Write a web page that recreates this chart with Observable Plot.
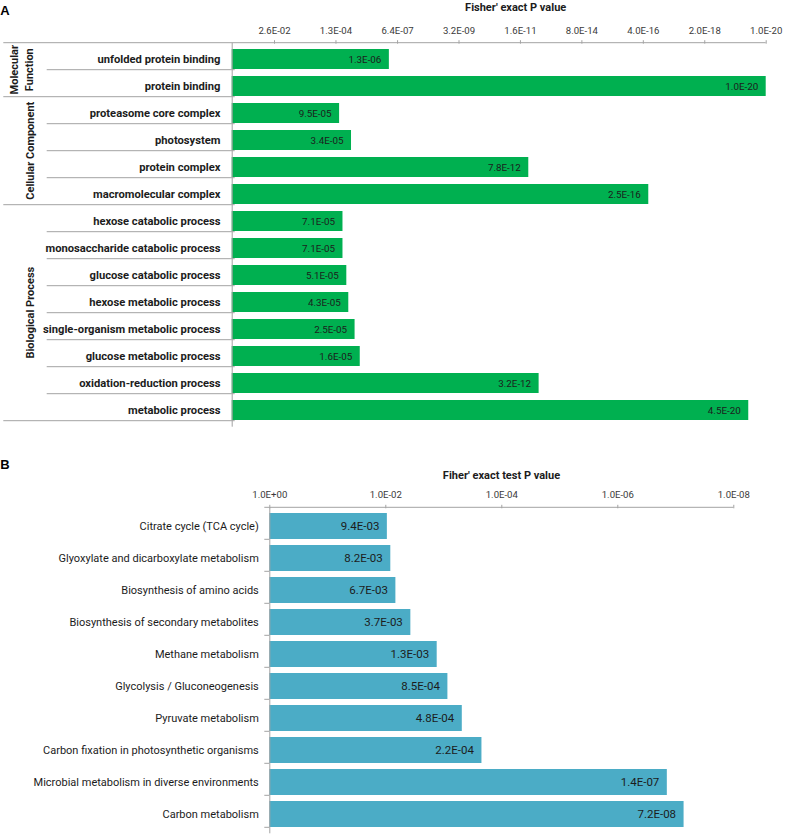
<!DOCTYPE html>
<html>
<head>
<meta charset="utf-8">
<script src="https://cdn.jsdelivr.net/npm/d3@7"></script>
<script src="https://cdn.jsdelivr.net/npm/@observablehq/plot@0.6"></script>
<style>
  body { margin: 0; background: #fff; }
  #wrap { position: relative; width: 787px; height: 838px; overflow: hidden; background: #fff; }
  #wrap svg { position: absolute; left: 0; }
</style>
</head>
<body>
<div id="wrap"></div>
<script>
// ---------- Panel A data (GO terms) ----------
const goTerms = [
  "unfolded protein binding",
  "protein binding",
  "proteasome core complex",
  "photosystem",
  "protein complex",
  "macromolecular complex",
  "hexose catabolic process",
  "monosaccharide catabolic process",
  "glucose catabolic process",
  "hexose metabolic process",
  "single-organism metabolic process",
  "glucose metabolic process",
  "oxidation-reduction process",
  "metabolic process"
];
const goP = [1.3e-6, 1.0e-20, 9.5e-5, 3.4e-5, 7.8e-12, 2.5e-16, 7.1e-5, 7.1e-5, 5.1e-5, 4.3e-5, 2.5e-5, 1.6e-5, 3.2e-12, 4.5e-20];
const goGroups = [["Molecular", "Function"], ["Cellular Component"], ["Biological Process"]];
const goGroupOf = [0, 0, 1, 1, 1, 1, 2, 2, 2, 2, 2, 2, 2, 2];
const goTicks = [2.6e-2, 1.3e-4, 6.4e-7, 3.2e-9, 1.6e-11, 8.0e-14, 4.0e-16, 2.0e-18, 1.0e-20];
const goTitle = "Fisher' exact P value";

// ---------- Panel B data (KEGG pathways) ----------
const keggTerms = [
  "Citrate cycle (TCA cycle)",
  "Glyoxylate and dicarboxylate metabolism",
  "Biosynthesis of amino acids",
  "Biosynthesis of secondary metabolites",
  "Methane metabolism",
  "Glycolysis / Gluconeogenesis",
  "Pyruvate metabolism",
  "Carbon fixation in photosynthetic organisms",
  "Microbial metabolism in diverse environments",
  "Carbon metabolism"
];
const keggP = [9.4e-3, 8.2e-3, 6.7e-3, 3.7e-3, 1.3e-3, 8.5e-4, 4.8e-4, 2.2e-4, 1.4e-7, 7.2e-8];
const keggTicks = [1e0, 1e-2, 1e-4, 1e-6, 1e-8];
const keggTitle = "Fiher' exact test P value";

// ---------- helpers ----------
function fmtE(p) {
  const [m, e] = p.toExponential(1).split("e");
  const sign = e[0] === "-" ? "-" : "+";
  const digits = e.replace(/^[+-]/, "").padStart(2, "0");
  return m + "E" + sign + digits;
}
const FONT = "Roboto, 'Liberation Sans', sans-serif";
const AXIS_GRAY = "#a3a3a3";
const TXT = "#1c1c1c";
const TICK_TXT = "#3a3a3a";

const wrap = document.getElementById("wrap");

// ================= Panel A =================
const dataA = goTerms.map((t, i) => ({term: t, p: goP[i], v: -Math.log10(goP[i])}));
const ticksA = goTicks.map(p => -Math.log10(p));
const tickLabA = new Map(ticksA.map((v, i) => [v, fmtE(goTicks[i])]));

const HA = 432;
const plotA = Plot.plot({
  width: 787, height: HA,
  marginTop: 42.7, marginLeft: 231.7, marginRight: 21.3, marginBottom: 5.3,
  style: {fontFamily: FONT, background: "transparent", overflow: "visible"},
  x: {domain: [0, 20], label: null},
  y: {domain: goTerms, paddingInner: 0.27, paddingOuter: 0.135, label: null},
  marks: [
    Plot.barX(dataA, {x: "v", y: "term", fill: "#00b050"}),
    Plot.text(dataA, {x: "v", y: "term", text: d => fmtE(d.p), textAnchor: "end", dx: -8, fontSize: 9.8, fill: TXT}),
    Plot.axisX({anchor: "top", ticks: ticksA, tickFormat: v => tickLabA.get(v), tickSize: 3.5, tickPadding: 6,
      stroke: AXIS_GRAY, fill: TICK_TXT, fontSize: 9.6, label: null}),
    Plot.axisY({anchor: "left", tickSize: 0, tickPadding: 11.7, fontSize: 11.2, fontWeight: "bold", fill: TXT, label: null}),
    Plot.ruleX([0], {stroke: AXIS_GRAY})
  ]
});
plotA.style.top = "0px";
wrap.appendChild(plotA);

(function decorateA() {
  const svg = d3.select(plotA);
  const ys = plotA.scale("y"), xs = plotA.scale("x");
  const r0 = ys.range[0], step = ys.step;
  const x0 = xs.apply(0), x1 = xs.apply(20);
  const g = svg.append("g").attr("stroke", AXIS_GRAY).attr("stroke-width", 1).attr("fill", "none");
  // top border / axis line
  g.append("line").attr("x1", 3.3).attr("x2", x1).attr("y1", r0).attr("y2", r0);
  // row boundaries
  for (let i = 1; i <= goTerms.length; i++) {
    const y = r0 + i * step;
    const isGroup = i === goTerms.length || goGroupOf[i] !== goGroupOf[i - 1];
    g.append("line").attr("x1", isGroup ? 3.3 : 46.7).attr("x2", x0 + 3).attr("y1", y).attr("y2", y);
  }
  // group labels
  goGroups.forEach((lines, gi) => {
    const idx = goGroupOf.map((g, i) => g === gi ? i : -1).filter(i => i >= 0);
    const yc = r0 + (idx[0] + idx[idx.length - 1] + 1) / 2 * step;
    const xs2 = lines.length === 2 ? [14.7, 29.2] : [30];
    lines.forEach((s, li) => {
      svg.append("text")
        .attr("transform", `translate(${xs2[li]},${yc}) rotate(-90)`)
        .attr("text-anchor", "middle").attr("dominant-baseline", "central")
        .attr("font-family", FONT).attr("font-size", 11).attr("font-weight", "bold").attr("fill", TXT)
        .text(s);
    });
  });
  // panel letter & title
  svg.append("text").attr("x", 5).attr("y", 15).attr("font-family", "'Liberation Sans', Arial, sans-serif")
    .attr("font-size", 13).attr("font-weight", "bold").attr("fill", "#000").text("A");
  svg.append("text").attr("x", 515.7).attr("y", 7.5).attr("text-anchor", "middle").attr("dominant-baseline", "central")
    .attr("font-family", FONT).attr("font-size", 11).attr("font-weight", "bold").attr("fill", TXT).text(goTitle);
})();

// ================= Panel B =================
const dataB = keggTerms.map((t, i) => ({term: t, p: keggP[i], v: -Math.log10(keggP[i])}));
const ticksB = keggTicks.map(p => -Math.log10(p) + 0);
const tickLabB = new Map(ticksB.map((v, i) => [v, fmtE(keggTicks[i])]));

const HB = 838 - HA;
const plotB = Plot.plot({
  width: 787, height: HB,
  marginTop: 75.3, marginLeft: 269.3, marginRight: 53.7, marginBottom: 4.7,
  style: {fontFamily: FONT, background: "transparent", overflow: "visible"},
  x: {domain: [0, 8], label: null},
  y: {domain: keggTerms, paddingInner: 0.18, paddingOuter: 0.09, label: null},
  marks: [
    Plot.barX(dataB, {x: "v", y: "term", fill: "#4bacc6"}),
    Plot.text(dataB, {x: "v", y: "term", text: d => fmtE(d.p), textAnchor: "end", dx: -8, fontSize: 11.5, fill: TXT}),
    Plot.axisX({anchor: "top", ticks: ticksB, tickFormat: v => tickLabB.get(v), tickSize: 3.5, tickPadding: 6,
      stroke: AXIS_GRAY, fill: TICK_TXT, fontSize: 9.6, label: null}),
    Plot.axisY({anchor: "left", tickSize: 0, tickPadding: 11, fontSize: 11, fill: TXT, label: null}),
    Plot.ruleX([0], {stroke: AXIS_GRAY})
  ]
});
plotB.style.top = HA + "px";
wrap.appendChild(plotB);

(function decorateB() {
  const svg = d3.select(plotB);
  const ys = plotB.scale("y"), xs = plotB.scale("x");
  const r0 = ys.range[0], step = ys.step;
  const x0 = xs.apply(0), x1 = xs.apply(8);
  const g = svg.append("g").attr("stroke", AXIS_GRAY).attr("stroke-width", 1).attr("fill", "none");
  g.append("line").attr("x1", x0).attr("x2", x1).attr("y1", r0).attr("y2", r0);
  for (let i = 0; i <= keggTerms.length; i++) {
    const y = r0 + i * step;
    g.append("line").attr("x1", x0 - 5).attr("x2", x0).attr("y1", y).attr("y2", y);
  }
  svg.append("text").attr("x", 5).attr("y", 37).attr("font-family", "'Liberation Sans', Arial, sans-serif")
    .attr("font-size", 13).attr("font-weight", "bold").attr("fill", "#000").text("B");
  svg.append("text").attr("x", 501.5).attr("y", 475 - HA).attr("text-anchor", "middle").attr("dominant-baseline", "central")
    .attr("font-family", FONT).attr("font-size", 11).attr("font-weight", "bold").attr("fill", TXT).text(keggTitle);
})();
</script>
</body>
</html>
